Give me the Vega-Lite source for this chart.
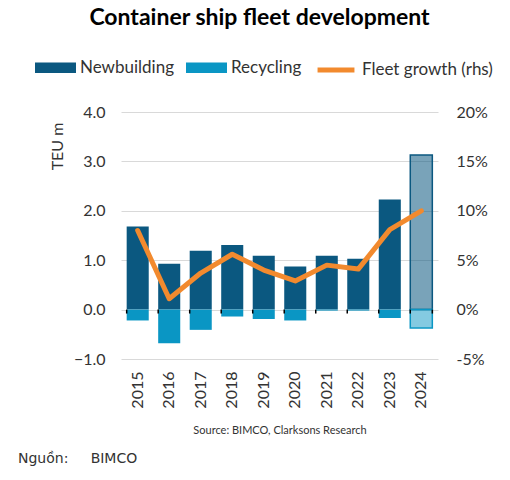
{
  "$schema": "https://vega.github.io/schema/vega-lite/v6.json",
  "autosize": {"type": "none"},
  "width": 317,
  "height": 247,
  "padding": {"left": 121, "top": 112, "right": 72, "bottom": 121},
  "background": "white",
  "config": {
    "view": {"stroke": null},
    "font": "Lato"
  },
  "title": {
    "text": "Nguồn:\u00a0\u00a0\u00a0\u00a0 BIMCO",
    "orient": "bottom",
    "anchor": "start",
    "frame": "group",
    "dx": -103,
    "offset": 17,
    "font": "DejaVu Sans",
    "fontSize": 14,
    "fontWeight": "normal",
    "color": "#333333"
  },
  "data": {
    "values": [
      {"year": "2015", "newbuilding": 1.68, "recycling": -0.22, "growth": 8.0},
      {"year": "2016", "newbuilding": 0.93, "recycling": -0.68, "growth": 1.1},
      {"year": "2017", "newbuilding": 1.19, "recycling": -0.41, "growth": 3.7},
      {"year": "2018", "newbuilding": 1.31, "recycling": -0.14, "growth": 5.6},
      {"year": "2019", "newbuilding": 1.09, "recycling": -0.19, "growth": 4.0},
      {"year": "2020", "newbuilding": 0.87, "recycling": -0.22, "growth": 2.9},
      {"year": "2021", "newbuilding": 1.09, "recycling": -0.02, "growth": 4.5},
      {"year": "2022", "newbuilding": 1.03, "recycling": -0.02, "growth": 4.1},
      {"year": "2023", "newbuilding": 2.23, "recycling": -0.17, "growth": 8.1},
      {"year": "2024", "newbuilding": 3.13, "recycling": -0.37, "growth": 10.0}
    ]
  },
  "layer": [
    {
      "encoding": {
        "x": {
          "field": "year",
          "type": "nominal",
          "scale": {"paddingInner": 0.3, "paddingOuter": 0.18},
          "axis": {
            "orient": "bottom",
            "title": "Source: BIMCO, Clarksons Research",
            "titleFont": "Lato",
            "titleFontSize": 11,
            "titleFontWeight": "normal",
            "titleColor": "#333333",
            "titlePadding": 16,
            "labelAngle": -90,
            "labelFontSize": 16,
            "labelColor": "#333333",
            "labelPadding": 12,
            "domain": false,
            "ticks": false,
            "tickSize": 0
          }
        }
      },
      "layer": [
        {
          "mark": {"type": "bar"},
          "encoding": {
            "y": {
              "field": "newbuilding",
              "type": "quantitative",
              "scale": {"domain": [-1, 4], "nice": false},
              "axis": {
                "title": "TEU m",
                "titleFont": "Lato",
                "titleFontSize": 16,
                "titleFontWeight": "normal",
                "titleColor": "#333333",
                "titleAngle": -90,
                "titleX": -64,
                "titleY": 34,
                "titleAlign": "center",
                "titleBaseline": "middle",
                "values": [-1, 0, 1, 2, 3, 4],
                "format": ".1f",
                "labelFontSize": 16,
                "labelColor": "#333333",
                "labelPadding": 16,
                "domain": false,
                "ticks": false,
                "tickSize": 0,
                "grid": true,
                "gridColor": "#d9d9d9",
                "gridWidth": 1
              }
            },
            "y2": {"datum": 0},
            "color": {
              "datum": "Newbuilding",
              "scale": {
                "domain": ["Newbuilding", "Recycling"],
                "range": ["#0b5880", "#0a96c4"]
              },
              "legend": {
                "orient": "none",
                "legendX": -86,
                "legendY": -65,
                "direction": "horizontal",
                "title": null,
                "labelFont": "Lato",
                "labelFontSize": 17,
                "labelColor": "#333333",
                "labelOffset": 4,
                "labelLimit": 200,
                "columnPadding": 12,
                "symbolType": "M-1,-0.26H1V0.26H-1Z",
                "symbolSize": 1681,
                "symbolStrokeWidth": 0,
                "symbolOpacity": 1
              }
            },
            "fillOpacity": {"condition": {"test": "datum.year === '2024'", "value": 0.55}, "value": 1},
            "strokeWidth": {"condition": {"test": "datum.year === '2024'", "value": 1.5}, "value": 0},
            "stroke": {"value": "#0b5880"}
          }
        },
        {
          "mark": {"type": "bar"},
          "encoding": {
            "y": {"field": "recycling", "type": "quantitative"},
            "y2": {"datum": 0},
            "color": {"datum": "Recycling"},
            "fillOpacity": {"condition": {"test": "datum.year === '2024'", "value": 0.5}, "value": 1},
            "strokeWidth": {"condition": {"test": "datum.year === '2024'", "value": 1.5}, "value": 0},
            "stroke": {"value": "#0a96c4"}
          }
        },
        {
          "mark": {"type": "rule", "color": "#000000", "strokeWidth": 1.5},
          "encoding": {
            "y": {"datum": 0}
          }
        },
        {
          "mark": {"type": "rule", "color": "#000000", "strokeWidth": 1.5},
          "encoding": {
            "x": {"field": "year", "type": "nominal", "bandPosition": 0},
            "y": {"datum": 0},
            "y2": {"datum": -0.08}
          }
        },
        {
          "transform": [{"filter": "datum.year === '2024'"}],
          "mark": {"type": "rule", "color": "#000000", "strokeWidth": 1.5},
          "encoding": {
            "x": {"field": "year", "type": "nominal", "bandPosition": 1},
            "y": {"datum": 0},
            "y2": {"datum": -0.08}
          }
        }
      ]
    },
    {
      "mark": {"type": "line", "strokeWidth": 5, "strokeCap": "round", "strokeJoin": "round"},
      "encoding": {
        "x": {
          "field": "year",
          "type": "nominal",
          "axis": {
            "orient": "top",
            "labels": false,
            "ticks": false,
            "domain": false,
            "grid": false,
            "title": "Container ship fleet development",
            "titleFont": "Lato",
            "titleFontSize": 23,
            "titleFontWeight": "bold",
            "titleColor": "#000000",
            "titleAnchor": "middle",
            "titleAlign": "center",
            "titleBaseline": "alphabetic",
            "titleX": 138,
            "titleY": -88
          }
        },
        "y": {
          "field": "growth",
          "type": "quantitative",
          "scale": {"domain": [-5, 20], "nice": false},
          "axis": {
            "orient": "right",
            "title": null,
            "values": [-5, 0, 5, 10, 15, 20],
            "labelExpr": "datum.value + '%'",
            "labelFontSize": 16,
            "labelColor": "#333333",
            "labelPadding": 18,
            "domain": false,
            "ticks": false,
            "tickSize": 0,
            "grid": false
          }
        },
        "stroke": {
          "datum": "Fleet growth (rhs)",
          "scale": {"domain": ["Fleet growth (rhs)"], "range": ["#f28a2e"]},
          "legend": {
            "orient": "none",
            "legendX": 192,
            "legendY": -65,
            "direction": "horizontal",
            "title": null,
            "labelFont": "Lato",
            "labelFontSize": 17,
            "labelColor": "#333333",
            "labelOffset": 3,
            "labelLimit": 200,
            "symbolType": "M-0.9,0H0.9",
            "symbolSize": 1681,
            "symbolStrokeWidth": 5,
            "symbolOpacity": 1
          }
        }
      }
    }
  ],
  "resolve": {"scale": {"y": "independent"}, "axis": {"x": "independent"}}
}
